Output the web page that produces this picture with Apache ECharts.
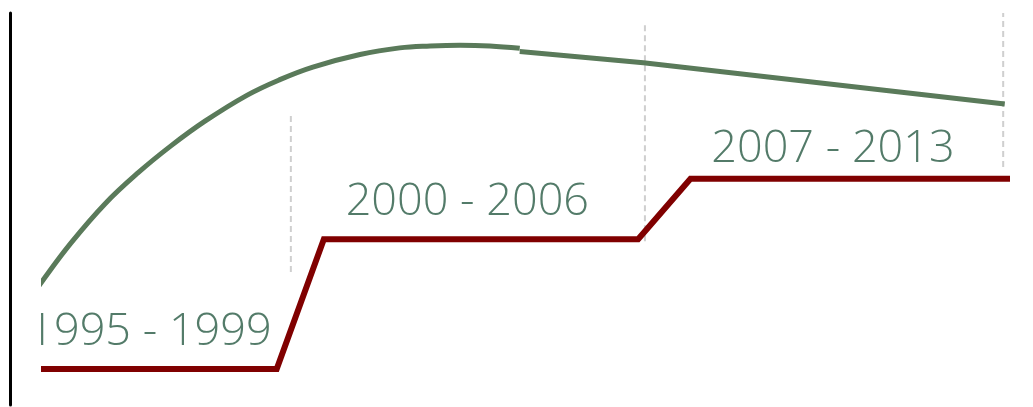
<!DOCTYPE html>
<html>
<head>
<meta charset="utf-8">
<script src="https://cdn.jsdelivr.net/npm/echarts@6/dist/echarts.min.js"></script>
<style>
html,body{margin:0;padding:0;background:#fff;}
#c{width:1033px;height:407px;}
</style>
</head>
<body>
<div id="c"></div>
<script>
// ---- data ----
const stepX = [1994.5, 1999.1, 2000, 2006, 2007, 2013.1];
const stepY = [9.2, 9.2, 42.3, 42.3, 57.7, 57.7];

const curveX = [1994.39, 1994.64, 1995.17, 1995.82, 1996.45, 1997.08, 1997.73, 1998.53, 1999.16, 1999.79, 2000.69, 2001.45, 2002.03, 2002.60, 2003.17, 2003.74];
const curveY = [27.0, 31.9, 41.3, 51.3, 59.2, 66.1, 72.4, 79.0, 83.0, 86.2, 89.4, 91.1, 91.6, 91.8, 91.6, 91.0];

const trendX = [2003.74, 2006.1, 2013.0];
const trendY = [90.2, 87.3, 76.8];

const dividerX = [1999.37, 2006.13, 2012.97];
const dividerLow = [33.9, 41.8, 60.7];
const dividerHigh = [73.7, 97.2, 100];

const periodLabels = ['1995 - 1999', '2000 - 2006', '2007 - 2013'];
const labelX = [1996.68, 2002.74, 2009.72];
const labelY = [18.6, 51.8, 65.3];

// ---- chart ----
const chart = echarts.init(document.getElementById('c'), null, {renderer: 'canvas'});
const zip = (xs, ys) => xs.map((x, i) => [x, ys[i]]);

const series = [];
dividerX.forEach((x, i) => {
  series.push({
    type: 'line', symbol: 'none', silent: true, z: 1,
    data: [[x, dividerLow[i]], [x, dividerHigh[i]]],
    lineStyle: {color: '#cfcfcf', width: 2, type: [6, 4]}
  });
});
series.push({
  type: 'line', symbol: 'none', smooth: 0.4, z: 3,
  data: zip(curveX, curveY),
  lineStyle: {color: '#5a7a5a', width: 5}
});
series.push({
  type: 'line', symbol: 'none', z: 3,
  data: zip(trendX, trendY),
  lineStyle: {color: '#5a7a5a', width: 5}
});
series.push({
  type: 'line', symbol: 'none', z: 4,
  data: zip(stepX, stepY),
  lineStyle: {color: '#800000', width: 6, join: 'miter'}
});
series.push({
  type: 'scatter', symbolSize: 0, z: 5, silent: true,
  data: periodLabels.map((n, i) => ({name: n, value: [labelX[i], labelY[i]]})),
  label: {
    show: true, position: 'inside', formatter: p => p.name,
    fontFamily: 'Open Sans', fontWeight: 300, fontSize: 45, color: '#285a43'
  }
});

chart.setOption({
  animation: false,
  backgroundColor: '#ffffff',
  grid: {left: 41, right: 23, top: 13, bottom: 2},
  xAxis: {
    type: 'value', min: 1994.6, max: 2013.1,
    axisLine: {show: false}, axisTick: {show: false}, axisLabel: {show: false}, splitLine: {show: false}
  },
  yAxis: {
    type: 'value', min: 0, max: 100, offset: 30.5,
    axisLine: {show: true, lineStyle: {color: '#000', width: 3}},
    axisTick: {show: false}, axisLabel: {show: false}, splitLine: {show: false}
  },
  graphic: [{
    type: 'rect', z: 100, left: 12, top: 0, shape: {width: 29, height: 407},
    style: {fill: '#ffffff'}
  }],
  series: series
});
</script>
</body>
</html>
